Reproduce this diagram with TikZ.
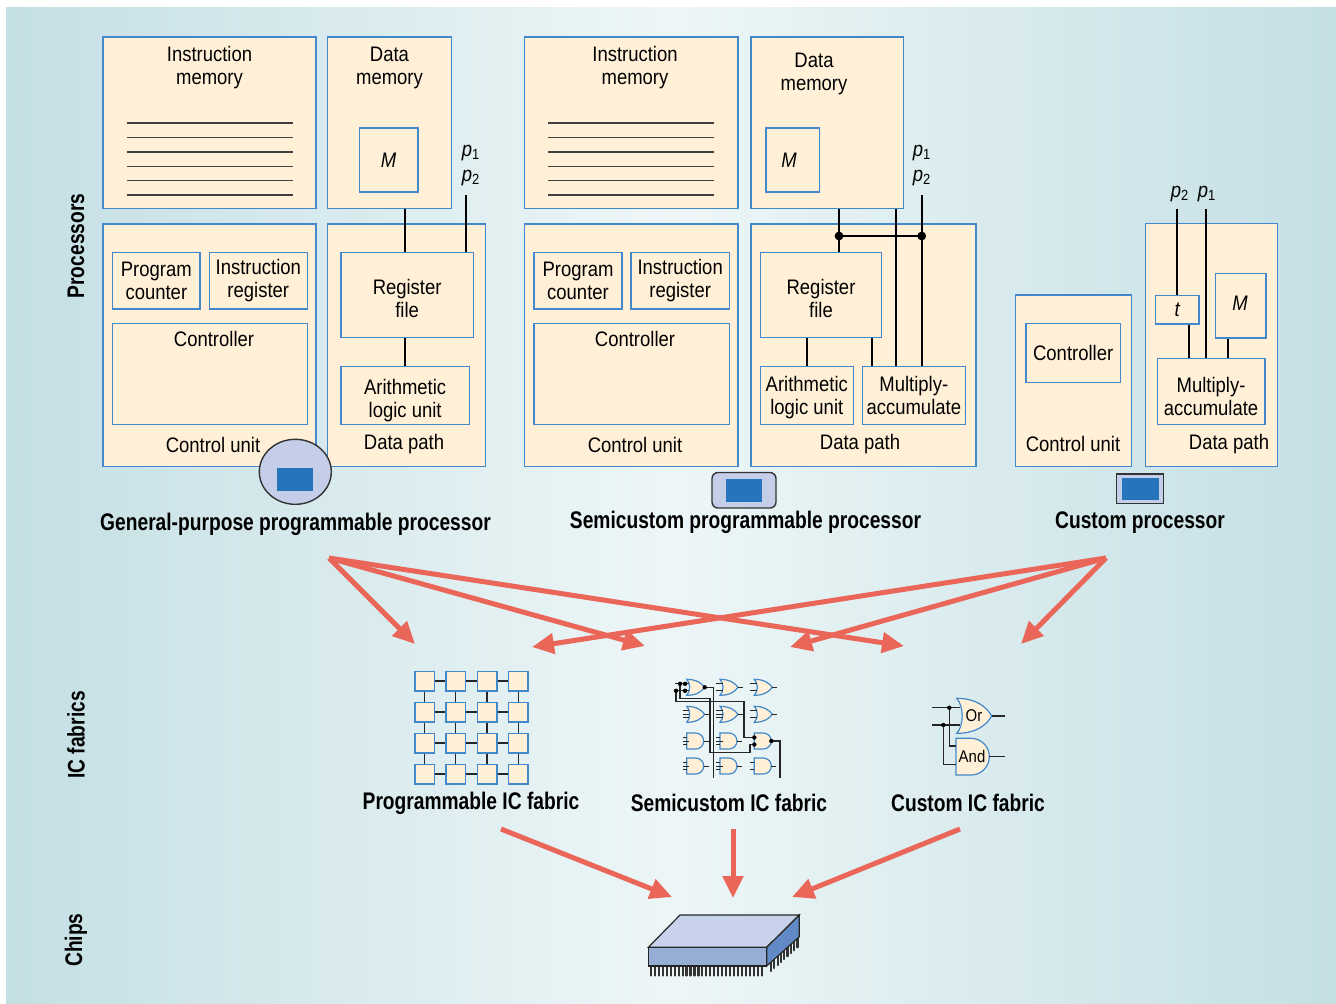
\documentclass[tikz,border=0pt]{standalone}
\usepackage{fontspec}
\setmainfont{Liberation Sans}[FakeStretch=0.88]
\newfontfamily\headfont{Liberation Sans}[FakeStretch=0.8]
\usetikzlibrary{fit, arrows.meta, shapes.geometric}

\definecolor{cream}{RGB}{255,240,215}
\definecolor{boxblue}{RGB}{66,136,202}
\definecolor{bgedge}{RGB}{196,223,228}
\definecolor{bgmid}{RGB}{237,246,247}
\definecolor{arrowred}{RGB}{234,102,88}
\definecolor{chiptop}{RGB}{200,210,234}
\definecolor{chipfront}{RGB}{150,174,214}
\definecolor{chipside}{RGB}{98,138,198}
\definecolor{iconfill}{RGB}{196,206,232}
\definecolor{iconblue}{RGB}{38,116,186}

\newcommand\txtsize{\fontsize{10.5}{11.5}\selectfont}

\tikzset{
  blk/.style={draw=boxblue, fill=cream, line width=0.75pt, inner sep=0pt},
  lbl/.style={align=center, inner sep=0pt, font=\txtsize},
  head/.style={inner sep=0pt, font=\headfont\bfseries\fontsize{12}{14}\selectfont},
  wire/.style={line width=1pt},
  listing/.style={line width=0.6pt, black!75},
  link/.style={line width=0.55pt, black!85},
  cell/.style={draw=boxblue, fill=cream, line width=0.75pt, minimum size=9.75pt, inner sep=0pt},
  gate/.style={draw=boxblue, fill=cream, line width=0.6pt},
  stub/.style={line width=0.5pt, black!85},
  icon/.style={draw=black!80, fill=iconfill, line width=0.7pt, inner sep=0pt},
  iconcore/.style={fill=iconblue, inner sep=0pt},
  flow/.style={draw=arrowred, line width=2.5pt, -{Triangle[length=11pt,width=10pt]}},
  pin/.style={line width=1.1pt, black!80, line cap=round},
  chipedge/.style={draw=black!85, line width=0.6pt},
  orgate/.pic={
    \draw[gate] (0,-8) .. controls (10,-8) and (15,-4) .. (18,0) .. controls (15,4) and (10,8) .. (0,8) .. controls (4,4) and (4,-4) .. cycle;
    \draw[stub] (18,0) -- (23,0);
    \draw[stub] (-4,-3.5) -- (2.6,-3.5);
    \draw[stub] (-4,3.5) -- (2.6,3.5);
    \coordinate (-in1) at (2.6,-3.5);
    \coordinate (-in2) at (2.6,3.5);
    \coordinate (-out) at (18,0);
  },
  andgate/.pic={
    \draw[gate] (0,-8) -- (9,-8) arc[start angle=90, end angle=-90, radius=4pt] -- (0,8) -- cycle;
    \draw[stub] (17,0) -- (22,0);
    \draw[stub] (-4,-3.5) -- (0,-3.5);
    \draw[stub] (-4,3.5) -- (0,3.5);
    \coordinate (-in1) at (0,-3.5);
    \coordinate (-in2) at (0,3.5);
    \coordinate (-out) at (17,0);
  },
  midin/.pic={
    \draw[stub] (-4,0) -- (2.5,0);
  },
}

\begin{document}
\begin{tikzpicture}[x=0.5pt, y=-0.5pt]
  \useasboundingbox (0,0) rectangle (1336,1003);
  \shade[left color=bgedge, right color=bgedge, middle color=bgmid] (6,7) rectangle (1336,1003);

  % row titles
  \node[head, rotate=90] (tProc) at (76,246) {Processors};
  \node[head, rotate=90] (tFab) at (76,735) {IC fabrics};
  \node[head, rotate=90] (tChip) at (76,940) {Chips};

  % general-purpose programmable processor
  \node[blk, fit={(103,37) (316,208.7)}] (gpIM) {};
  \node[lbl] (gpIMt) at (209.5,67.5) {Instruction\\memory};
  \foreach \y in {123,137.6,152,166.3,180.5,195}
    \draw[listing] (127,\y) -- (293,\y);
  \node[blk, fit={(327.7,37) (451.3,208.7)}] (gpDM) {};
  \node[lbl] (gpDMt) at (389.5,67.5) {Data\\memory};
  \node[blk, fit={(359.3,127.8) (418,191.8)}] (gpM) {};
  \node[lbl] (gpMt) at (gpM) {\itshape M};
  \node[lbl] (gpP1) at (471,153) {{\itshape p}\textsubscript{1}};
  \node[lbl] (gpP2) at (471,178) {{\itshape p}\textsubscript{2}};
  \node[blk, fit={(103,224) (316,466.7)}] (gpCU) {};
  \node[blk, fit={(112.7,252.4) (200,309)}] (gpPC) {};
  \node[lbl] (gpPCt) at (gpPC) {Program\\counter};
  \node[blk, fit={(209.3,252.4) (307.3,309)}] (gpIR) {};
  \node[lbl] (gpIRt) at (gpIR) {Instruction\\register};
  \node[blk, fit={(112.7,323.7) (307.3,424.3)}] (gpCtl) {};
  \node[lbl] (gpCtlt) at (214,339) {Controller};
  \node[lbl] (gpCUt) at (213,445) {Control unit};
  \node[blk, fit={(327.7,224) (485.3,466.7)}] (gpDP) {};
  \node[blk, fit={(341,252.4) (473.3,337.5)}] (gpRF) {};
  \node[lbl, yshift=-2pt] (gpRFt) at (gpRF) {Register\\file};
  \node[blk, fit={(341,366.5) (469.3,424.3)}] (gpALU) {};
  \node[lbl, yshift=-2.5pt] (gpALUt) at (gpALU) {Arithmetic\\logic unit};
  \node[lbl] (gpDPt) at (404,444) {Data path};
  \coordinate (gpBus) at (465.7,195.3);
  \draw[wire] (gpBus) -- (gpBus |- gpRF.north);
  \draw[wire] (gpDM.south -| gpALU) -- (gpRF.north -| gpALU);
  \draw[wire] (gpRF.south -| gpALU) -- (gpALU.north);
  \node[icon, ellipse, minimum width=36pt, minimum height=32.5pt] (gpIcon) at (295.3,471.8) {};
  \node[iconcore, fit={(276.7,468.4) (313.3,490.8)}] (gpIconIn) {};
  \node[head] (gpName) at (295.5,524) {General-purpose programmable processor};

  % semicustom programmable processor
  \node[blk, fit={(524.7,37) (738,208.7)}] (scIM) {};
  \node[lbl] (scIMt) at (635,67.5) {Instruction\\memory};
  \foreach \y in {123,137.6,152,166.3,180.5,195}
    \draw[listing] (548.3,\y) -- (714,\y);
  \node[blk, fit={(751,37) (903.3,208.7)}] (scDM) {};
  \node[lbl] (scDMt) at (814,73.5) {Data\\memory};
  \node[blk, fit={(766,127.8) (819.3,191.8)}] (scM) {};
  \node[lbl] (scMt) at (789,160) {\itshape M};
  \node[lbl] (scP1) at (922,153) {{\itshape p}\textsubscript{1}};
  \node[lbl] (scP2) at (922,178) {{\itshape p}\textsubscript{2}};
  \node[blk, fit={(524.7,224) (738,466.7)}] (scCU) {};
  \node[blk, fit={(534,252.4) (622,309)}] (scPC) {};
  \node[lbl] (scPCt) at (scPC) {Program\\counter};
  \node[blk, fit={(631,252.4) (729.3,309)}] (scIR) {};
  \node[lbl] (scIRt) at (scIR) {Instruction\\register};
  \node[blk, fit={(534,323.7) (729.3,424.3)}] (scCtl) {};
  \node[lbl] (scCtlt) at (635,339) {Controller};
  \node[lbl] (scCUt) at (635,445) {Control unit};
  \node[blk, fit={(751,224) (976,466.7)}] (scDP) {};
  \node[blk, fit={(760.3,252.4) (881.7,337.5)}] (scRF) {};
  \node[lbl, yshift=-2pt] (scRFt) at (scRF) {Register\\file};
  \node[blk, fit={(760.3,366.5) (853.3,424.3)}] (scALU) {};
  \node[lbl, yshift=-1pt] (scALUt) at (scALU) {Arithmetic\\logic unit};
  \node[blk, fit={(862.3,366.5) (965.3,424.3)}] (scMAC) {};
  \node[lbl] (scMACt) at (scMAC) {Multiply-\\accumulate};
  \node[lbl] (scDPt) at (860,444) {Data path};
  \coordinate (scJ1) at (839,236);
  \coordinate (scJ2) at (921.7,236);
  \coordinate (scBus) at (921.7,195.3);
  \coordinate (scX) at (896,300);
  \coordinate (scY) at (871.7,350);
  \draw[wire] (scJ1 |- scDM.south) -- (scJ1 |- scRF.north);
  \draw[wire] (scJ1) -- (scJ2);
  \draw[wire] (scBus) -- (scBus |- scMAC.north);
  \draw[wire] (scX |- scDM.south) -- (scX |- scMAC.north);
  \draw[wire] (scRF.south -| scALU) -- (scALU.north);
  \draw[wire] (scY |- scRF.south) -- (scY |- scMAC.north);
  \fill (scJ1) circle (2.2pt);
  \fill (scJ2) circle (2.2pt);
  \node[icon, rounded corners=3pt, fit={(712,472.5) (776,508)}] (scIcon) {};
  \node[iconcore, fit={(725.7,479.4) (762.3,502)}] (scIconIn) {};
  \node[head] (scName) at (745.5,522) {Semicustom programmable processor};

  % custom processor
  \node[blk, fit={(1015.3,295) (1131.7,466.7)}] (cuCU) {};
  \node[blk, fit={(1026,323.3) (1120.3,382.7)}] (cuCtl) {};
  \node[lbl] (cuCtlt) at (cuCtl) {Controller};
  \node[lbl] (cuCUt) at (1073,444) {Control unit};
  \node[blk, fit={(1145.3,223.3) (1277.3,466.7)}] (cuDP) {};
  \node[blk, fit={(1155.3,295.3) (1199,324)}] (cuT) {};
  \node[lbl] (cuTt) at (cuT) {\itshape t};
  \node[blk, fit={(1215.3,273.3) (1266,338)}] (cuM) {};
  \node[lbl] (cuMt) at (1240,303) {\itshape M};
  \node[blk, fit={(1157.3,358.7) (1265,424.3)}] (cuMAC) {};
  \node[lbl] (cuMACt) at (1211,396) {Multiply-\\accumulate};
  \node[lbl] (cuDPt) at (1229,444) {Data path};
  \node[lbl] (cuP2) at (1180,194) {{\itshape p}\textsubscript{2}};
  \node[lbl] (cuP1) at (1207,194) {{\itshape p}\textsubscript{1}};
  \coordinate (cuBus2) at (1176.7,209.3);
  \coordinate (cuBus1) at (1206,209.3);
  \coordinate (cuA) at (1188.7,340);
  \coordinate (cuB) at (1227.7,350);
  \draw[wire] (cuBus2) -- (cuBus2 |- cuT.north);
  \draw[wire] (cuA |- cuT.south) -- (cuA |- cuMAC.north);
  \draw[wire] (cuBus1) -- (cuBus1 |- cuMAC.north);
  \draw[wire] (cuB |- cuM.south) -- (cuB |- cuMAC.north);
  \node[icon, fit={(1116.7,474) (1163.3,503.3)}] (cuIcon) {};
  \node[iconcore, fit={(1121.7,478.3) (1159,500)}] (cuIconIn) {};
  \node[head] (cuName) at (1140,523) {Custom processor};

  % processors to fabrics
  \coordinate (srcGP) at (329,558);
  \coordinate (srcCU) at (1106,558);
  \coordinate (dstA) at (415,644);
  \coordinate (dstB) at (645,646);
  \coordinate (dstC) at (904,646);
  \coordinate (dstD) at (1021,644);
  \coordinate (dstE) at (790,647);
  \coordinate (dstF) at (532,647);
  \draw[flow] (srcGP) -- (dstA);
  \draw[flow] (srcGP) -- (dstB);
  \draw[flow] (srcGP) -- (dstC);
  \draw[flow] (srcCU) -- (dstD);
  \draw[flow] (srcCU) -- (dstE);
  \draw[flow] (srcCU) -- (dstF);

  % programmable fabric
  \foreach \i in {0,...,3}
    \foreach \j in {0,...,3}
      \node[cell] (pf\i\j) at ({424.6+31.2*\i},{681+31*\j}) {};
  \foreach \i/\k in {0/1,1/2,2/3}
    \foreach \j in {0,...,3} {
      \draw[link] (pf\i\j) -- (pf\k\j);
      \draw[link] (pf\j\i) -- (pf\j\k);
    }
  \node[head] (pfName) at (471,803) {Programmable IC fabric};

  % semicustom fabric
  \foreach \c/\x in {1/686.7,2/720,3/754.3} {
    \pic (g1\c) at (\x,687.3) {orgate};
    \pic (g2\c) at (\x,714.3) {orgate};
    \pic (g3\c) at (\x,741) {andgate};
    \pic (g4\c) at (\x,766) {andgate};
  }
  \foreach \x in {686.7,720}
    \foreach \y in {714.3,741,766}
      \pic at (\x,\y) {midin};
  \coordinate (sfIn1) at (675,683.8);
  \coordinate (sfIn2) at (675,690.8);
  \draw[link] (sfIn1) -- (g11-in1);
  \draw[link] (sfIn2) -- (g11-in2);
  \draw[link] (676,690.8) |- (744,701.7) |- (g33-in1);
  \draw[link] (680,683.8) |- (710,698.3) |- (750,752.3) |- (g33-in2);
  \draw[link] (g11-out) -| (713.3,778);
  \draw[link] (g33-out) -| (780,778);
  \foreach \p in {(680,683.8),(685,683.8),(676,690.8),(685,690.8),(g11-out),(g33-out),(g33-in1),(g33-in2)}
    \fill \p circle (1.1pt);
  \node[head] (sfName) at (729,803) {Semicustom IC fabric};

  % custom fabric
  \draw[gate] (956.7,698.3) .. controls (975,698.3) and (986,706) .. (991.7,716) .. controls (986,726) and (975,733.3) .. (956.7,733.3) .. controls (964,726) and (964,706) .. cycle;
  \draw[gate] (956,738.3) -- (971,738.3) arc[start angle=90, end angle=-90, radius=9.17pt] -- (956,775) -- cycle;
  \node[inner sep=0pt, font=\fontsize{8.5}{10}\selectfont] (cfOr) at (974,716) {Or};
  \node[inner sep=0pt, font=\fontsize{8.5}{10}\selectfont] (cfAnd) at (972,756.7) {And};
  \draw[link] (991.7,716) -- (1005,716);
  \draw[link] (989.3,756.7) -- (1005,756.7);
  \draw[link] (932.3,707.7) -- (960,707.7);
  \draw[link] (932.3,725) -- (960,725);
  \draw[link] (949.3,707.7) |- (956,746);
  \draw[link] (943.3,725) |- (956,764.3);
  \fill (949.3,707.7) circle (1.1pt);
  \fill (943.3,725) circle (1.1pt);
  \node[head] (cfName) at (968,803) {Custom IC fabric};

  % fabrics to chip
  \coordinate (fabL) at (501,829);
  \coordinate (fabM) at (733,829);
  \coordinate (fabR) at (960,829);
  \coordinate (chipL) at (672,897);
  \coordinate (chipM) at (733,898);
  \coordinate (chipR) at (792,897);
  \draw[flow] (fabL) -- (chipL);
  \draw[flow] (fabM) -- (chipM);
  \draw[flow] (fabR) -- (chipR);

  % chip
  \foreach \i in {0,...,28}
    \draw[pin] ({651+3.95*\i},966) -- ++(0,9.5);
  \foreach \i in {0,...,8}
    \draw[pin] ({771+3.3*\i},{962-2.97*\i}) -- ++(0,9);
  \filldraw[chipedge, fill=chiptop] (648.3,947.3) -- (680,915) -- (799.3,915) -- (766.7,947.3) -- cycle;
  \filldraw[chipedge, fill=chipfront] (648.3,947.3) rectangle (766.7,966);
  \filldraw[chipedge, fill=chipside] (766.7,947.3) -- (799.3,915) -- (799.3,936.7) -- (766.7,966) -- cycle;
\end{tikzpicture}
\end{document}
